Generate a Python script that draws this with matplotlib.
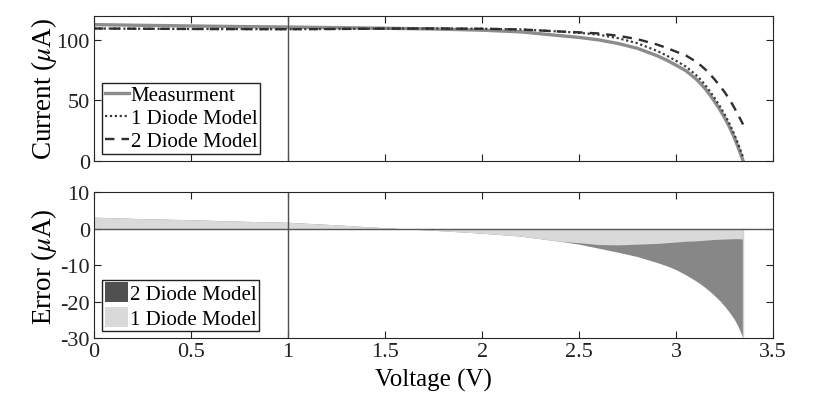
import numpy as np
import matplotlib.pyplot as plt
from matplotlib.patches import Patch

plt.rcParams['font.family'] = ['Liberation Serif', 'DejaVu Serif']
plt.rcParams['mathtext.fontset'] = 'stix'
plt.rcParams['axes.unicode_minus'] = False

# values
voltage = np.array([0, 0.25, 0.5, 0.75, 1.0, 1.25, 1.5, 1.75, 2.0, 2.2, 2.4, 2.5,
                    2.6, 2.7, 2.8, 2.9, 2.95, 3.0, 3.05, 3.1, 3.125, 3.15, 3.175,
                    3.2, 3.225, 3.25, 3.275, 3.3, 3.32, 3.345])
measured = np.array([112.6, 112.0, 111.5, 111.0, 110.6, 110.1, 109.6, 109.0, 108.0,
                     106.6, 103.5, 102.0, 100.0, 97.0, 93.0, 87.0, 83.3, 79.0, 74.5,
                     68.0, 64.0, 59.5, 54.3, 48.5, 42.3, 35.5, 27.8, 19.0, 11.0, 0.0])
err_1diode = np.array([3.2, 2.8, 2.5, 2.1, 1.8, 1.1, 0.3, -0.4, -1.2, -2.0, -3.4, -3.8,
                       -4.3, -4.4, -4.2, -4.0, -3.8, -3.6, -3.4, -3.3, -3.2, -3.1,
                       -3.0, -2.9, -2.85, -2.8, -2.75, -2.7, -2.7, -2.8])
err_2diode = np.array([3.2, 2.8, 2.5, 2.1, 1.8, 1.1, 0.3, -0.4, -1.2, -2.0, -3.4, -4.2,
                       -5.3, -6.4, -7.6, -9.2, -10.1, -11.2, -12.6, -14.2, -15.1,
                       -16.1, -17.2, -18.4, -19.7, -21.2, -22.9, -24.8, -26.8, -30.0])

model_1diode = measured - err_1diode
model_2diode = measured - err_2diode

fig = plt.figure(figsize=(8.13, 4.02), dpi=100)
ax1 = fig.add_axes([0.1156, 0.5978, 0.8354, 0.3607])
ax2 = fig.add_axes([0.1156, 0.156, 0.8354, 0.363])

leg_opts = dict(loc='lower left', bbox_to_anchor=(0.012, 0.048), borderaxespad=0,
                fontsize=15, handletextpad=0.1, borderpad=0.12, fancybox=False,
                edgecolor='#222222', framealpha=1)

ax1.plot(voltage, measured, color='#8c8c8c', lw=2.4, label='Measurment')
ax1.plot(voltage, model_1diode, color='#3a3a3a', lw=1.6, ls=(0, (1, 1.2)),
         label='1 Diode Model')
ax1.plot(voltage, model_2diode, color='#2e2e2e', lw=1.7, ls=(0, (4, 3)),
         label='2 Diode Model')
ax1.axvline(1, color='#505050', lw=1)
ax1.set_xlim(0, 3.5)
ax1.set_ylim(0, 120)
ax1.set_yticks([0, 50, 100])
ax1.set_xticks(np.arange(0, 3.51, 0.5))
ax1.set_xticklabels([])
ax1.set_ylabel(r'Current ($\mu$A)', fontsize=19.5)
ax1.yaxis.set_label_coords(-0.051, 0.5)
ax1.legend(handlelength=1.15, labelspacing=0.17, **leg_opts)

ax2.fill_between(voltage, 0, err_2diode, color='#878787', lw=0)
ax2.fill_between(voltage, 0, err_1diode, color='#d9d9d9', lw=0)
ax2.plot([voltage[-1], voltage[-1]], [0, err_2diode[-1]], color='#d0d0d0', lw=1)
ax2.axhline(0, color='#555555', lw=1)
ax2.axvline(1, color='#505050', lw=1)
ax2.set_xlim(0, 3.5)
ax2.set_ylim(-30, 10)
ax2.set_yticks([-30, -20, -10, 0, 10])
ax2.set_xticks(np.arange(0, 3.51, 0.5))
ax2.set_xticklabels(['0', '0.5', '1', '1.5', '2', '2.5', '3', '3.5'])
ax2.set_ylabel(r'Error ($\mu$A)', fontsize=19.5)
ax2.yaxis.set_label_coords(-0.051, 0.5)
ax2.set_xlabel('Voltage (V)', fontsize=18, labelpad=5)
handles = [Patch(facecolor='#505050', label='2 Diode Model'),
           Patch(facecolor='#d9d9d9', label='1 Diode Model')]
ax2.legend(handles=handles, handlelength=1.1, handleheight=1.1, labelspacing=0.12,
           **leg_opts)

for ax in (ax1, ax2):
    ax.tick_params(direction='in', top=True, right=True, length=5, width=0.8,
                   labelsize=16, colors='#222222', pad=3)
    for s in ax.spines.values():
        s.set_color('#262626')
        s.set_linewidth(0.8)

fig.savefig('out.png', dpi=100)
